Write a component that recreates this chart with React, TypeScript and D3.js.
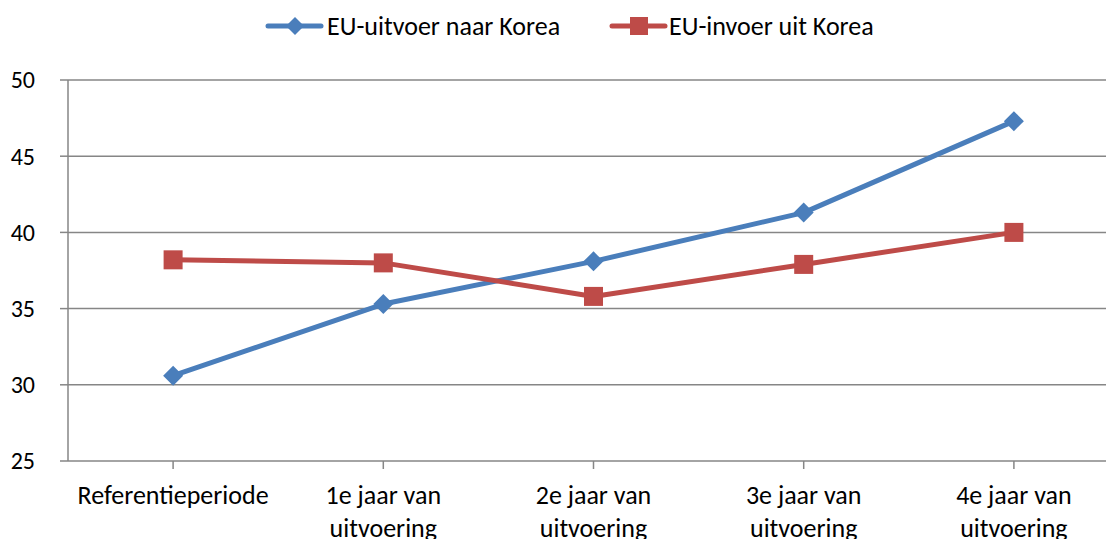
import React from "react";
import * as d3 from "d3";

const categories: string[][] = [
  ["Referentieperiode"],
  ["1e jaar van", "uitvoering"],
  ["2e jaar van", "uitvoering"],
  ["3e jaar van", "uitvoering"],
  ["4e jaar van", "uitvoering"],
];
const exportValues = [30.6, 35.3, 38.1, 41.3, 47.3];
const importValues = [38.2, 38.0, 35.8, 37.9, 40.0];
const yTicks = [25, 30, 35, 40, 45, 50];
const seriesNames = ["EU-uitvoer naar Korea", "EU-invoer uit Korea"];

const W = 1106;
const H = 539;
const left = 68;
const right = 1119;
const top = 80;
const bottom = 461;
const FONT = "Carlito, 'Open Sans', sans-serif";
const BLUE = "#4a7ebb";
const RED = "#be4b48";
const GRID = "#868686";

export default function App() {
  const idx = categories.map((_, i) => i);
  const x = d3.scaleBand<number>().domain(idx).range([left, right]);
  const cx = (i: number) => (x(i) as number) + x.bandwidth() / 2;
  const y = d3.scaleLinear().domain([25, 50]).range([bottom, top]);
  const line = d3
    .line<number>()
    .x((_, i) => cx(i))
    .y((d) => y(d));

  const diamond = (px: number, py: number, r: number) =>
    `M${px},${py - r}L${px + r},${py}L${px},${py + r}L${px - r},${py}Z`;

  return (
    <svg
      width={W}
      height={H}
      style={{ position: "absolute", left: 0, top: 0, background: "#fff" }}
      fontFamily={FONT}
    >
      {yTicks.map((t) => (
        <g key={t}>
          <line x1={left} x2={right} y1={y(t)} y2={y(t)} stroke={GRID} strokeWidth={1.5} />
          <line x1={left - 8} x2={left} y1={y(t)} y2={y(t)} stroke={GRID} strokeWidth={1.5} />
          <text x={35} y={y(t)} dy="0.35em" textAnchor="end" fontSize={24} fill="#000">
            {t}
          </text>
        </g>
      ))}
      <line x1={left} x2={left} y1={top} y2={bottom} stroke={GRID} strokeWidth={1.5} />
      {idx.map((i) => (
        <line key={i} x1={cx(i)} x2={cx(i)} y1={bottom} y2={bottom + 8} stroke={GRID} strokeWidth={1.5} />
      ))}
      {categories.map((lines, i) => (
        <text key={i} x={cx(i)} y={504} textAnchor="middle" fontSize={26} fill="#000">
          {lines.map((l, j) => (
            <tspan key={j} x={cx(i)} dy={j === 0 ? 0 : 33}>
              {l}
            </tspan>
          ))}
        </text>
      ))}
      <path d={line(exportValues) || ""} fill="none" stroke={BLUE} strokeWidth={5} strokeLinejoin="round" />
      <path d={line(importValues) || ""} fill="none" stroke={RED} strokeWidth={5} strokeLinejoin="round" />
      {exportValues.map((v, i) => (
        <path key={i} d={diamond(cx(i), y(v), 10)} fill={BLUE} />
      ))}
      {importValues.map((v, i) => (
        <rect key={i} x={cx(i) - 9.5} y={y(v) - 9.5} width={19} height={19} fill={RED} />
      ))}
      <g>
        <line x1={268} x2={321} y1={26} y2={26} stroke={BLUE} strokeWidth={5} strokeLinecap="round" />
        <path d={diamond(295, 26, 9)} fill={BLUE} />
        <text x={327} y={26} dy="0.35em" fontSize={26} fill="#000">
          {seriesNames[0]}
        </text>
        <line x1={612} x2={665} y1={26} y2={26} stroke={RED} strokeWidth={5} strokeLinecap="round" />
        <rect x={630} y={17} width={18} height={18} fill={RED} />
        <text x={669} y={26} dy="0.35em" fontSize={26} fill="#000">
          {seriesNames[1]}
        </text>
      </g>
    </svg>
  );
}
